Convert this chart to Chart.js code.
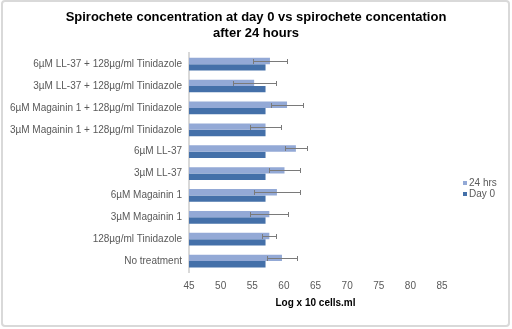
<!DOCTYPE html>
<html>
<head>
<meta charset="utf-8">
<script src="https://cdn.jsdelivr.net/npm/chart.js@4"></script>
<style>
  html, body { margin: 0; padding: 0; background: #ffffff; }
  #wrap { width: 512px; height: 329px; position: relative; }
</style>
</head>
<body>
<div id="wrap"><canvas id="c" width="512" height="329"></canvas></div>
<script>
// Treatment groups, top to bottom
const categories = [
  '6\u00b5M LL-37 + 128\u00b5g/ml Tinidazole',
  '3\u00b5M LL-37 + 128\u00b5g/ml Tinidazole',
  '6\u00b5M Magainin 1 + 128\u00b5g/ml Tinidazole',
  '3\u00b5M Magainin 1 + 128\u00b5g/ml Tinidazole',
  '6\u00b5M LL-37',
  '3\u00b5M LL-37',
  '6\u00b5M Magainin 1',
  '3\u00b5M Magainin 1',
  '128\u00b5g/ml Tinidazole',
  'No treatment'
];
// Log x 10 cells.ml after 24 hours, with standard error
const hrs24 = [57.8, 55.3, 60.5, 57.1, 61.9, 60.1, 58.9, 57.7, 57.7, 59.7];
const hrs24Err = [2.7, 3.4, 2.6, 2.4, 1.8, 2.5, 3.6, 3.0, 1.1, 2.4];
// Log x 10 cells.ml at day 0
const day0 = [57.1, 57.1, 57.1, 57.1, 57.1, 57.1, 57.1, 57.1, 57.1, 57.1];
// x axis ticks
const xMin = 45, xMax = 85, xStep = 5;

const FONT = "'Liberation Sans', Arial, sans-serif";
const LABEL_SIZE = 10;

// Error whiskers for the 24 hrs series
const errorBars = {
  id: 'errorBars',
  afterDatasetsDraw(chart) {
    const meta = chart.getDatasetMeta(0);
    const xs = chart.scales.x;
    const ctx = chart.ctx;
    ctx.save();
    ctx.strokeStyle = '#7a7a7a';
    ctx.lineWidth = 1;
    meta.data.forEach((bar, i) => {
      const v = hrs24[i], e = hrs24Err[i];
      const x1 = Math.round(xs.getPixelForValue(v - e)) + 0.5;
      const x2 = Math.round(xs.getPixelForValue(v + e)) + 0.5;
      const y = Math.round(bar.y) + 0.5;
      ctx.beginPath();
      ctx.moveTo(x1, y); ctx.lineTo(x2, y);
      ctx.moveTo(x1, y - 2.5); ctx.lineTo(x1, y + 2.5);
      ctx.moveTo(x2, y - 2.5); ctx.lineTo(x2, y + 2.5);
      ctx.stroke();
    });
    ctx.restore();
  }
};

// Series key at the right of the plot
const sideLegend = {
  id: 'sideLegend',
  afterDraw(chart) {
    const ctx = chart.ctx;
    const x = 463, y0 = 183, step = 11;
    ctx.save();
    ctx.font = LABEL_SIZE + 'px ' + FONT;
    ctx.textBaseline = 'middle';
    ctx.textAlign = 'left';
    chart.data.datasets.forEach((ds, i) => {
      const y = y0 + i * step;
      ctx.fillStyle = ds.backgroundColor;
      ctx.fillRect(x, y - 2, 4, 4);
      ctx.fillStyle = '#595959';
      ctx.fillText(ds.label, x + 6, y);
    });
    ctx.restore();
  }
};

// Frame around the chart
const frame = {
  id: 'frame',
  afterDraw(chart) {
    const ctx = chart.ctx;
    ctx.save();
    ctx.strokeStyle = '#d9d9d9';
    ctx.lineWidth = 2;
    ctx.beginPath();
    ctx.roundRect(2, 1, 507, 325, 3);
    ctx.stroke();
    ctx.restore();
  }
};

new Chart(document.getElementById('c'), {
  type: 'bar',
  data: {
    labels: categories,
    datasets: [
      { label: '24 hrs', data: hrs24, backgroundColor: '#93a9d6', borderWidth: 0 },
      { label: 'Day 0', data: day0, backgroundColor: '#4470a9', borderWidth: 0 }
    ]
  },
  options: {
    indexAxis: 'y',
    responsive: false,
    animation: false,
    devicePixelRatio: 1,
    layout: { padding: { left: 10, right: 10, top: 0, bottom: 20 } },
    categoryPercentage: 0.58,
    barPercentage: 1.0,
    scales: {
      x: {
        min: xMin, max: xMax,
        ticks: { stepSize: xStep, color: '#595959', font: { family: FONT, size: LABEL_SIZE }, padding: 8 },
        grid: { display: false, drawTicks: false },
        border: { display: false },
        title: { display: true, text: 'Log x 10 cells.ml', color: '#000', font: { family: FONT, size: 10, weight: 'bold' }, padding: { top: -3, bottom: 0 } }
      },
      y: {
        ticks: { color: '#595959', font: { family: FONT, size: LABEL_SIZE }, padding: 7, autoSkip: false },
        grid: { display: false, drawTicks: false },
        border: { display: true, color: '#d9d9d9', width: 2 },
        afterFit(scale) { scale.width = 179; }
      },
      // empty strip on the right that leaves room for the series key
      keySpace: {
        type: 'category',
        axis: 'y',
        position: 'right',
        ticks: { display: false },
        grid: { display: false, drawTicks: false },
        border: { display: false },
        afterFit(scale) { scale.width = 60; }
      }
    },
    plugins: {
      title: {
        display: true,
        text: ['Spirochete concentration at day 0 vs spirochete concentation', 'after 24 hours'],
        color: '#000',
        font: { family: FONT, size: 13, weight: 'bold', lineHeight: 1.2 },
        padding: { top: 10, bottom: 12 }
      },
      legend: { display: false },
      tooltip: { enabled: false }
    }
  },
  plugins: [errorBars, sideLegend, frame]
});
</script>
</body>
</html>
